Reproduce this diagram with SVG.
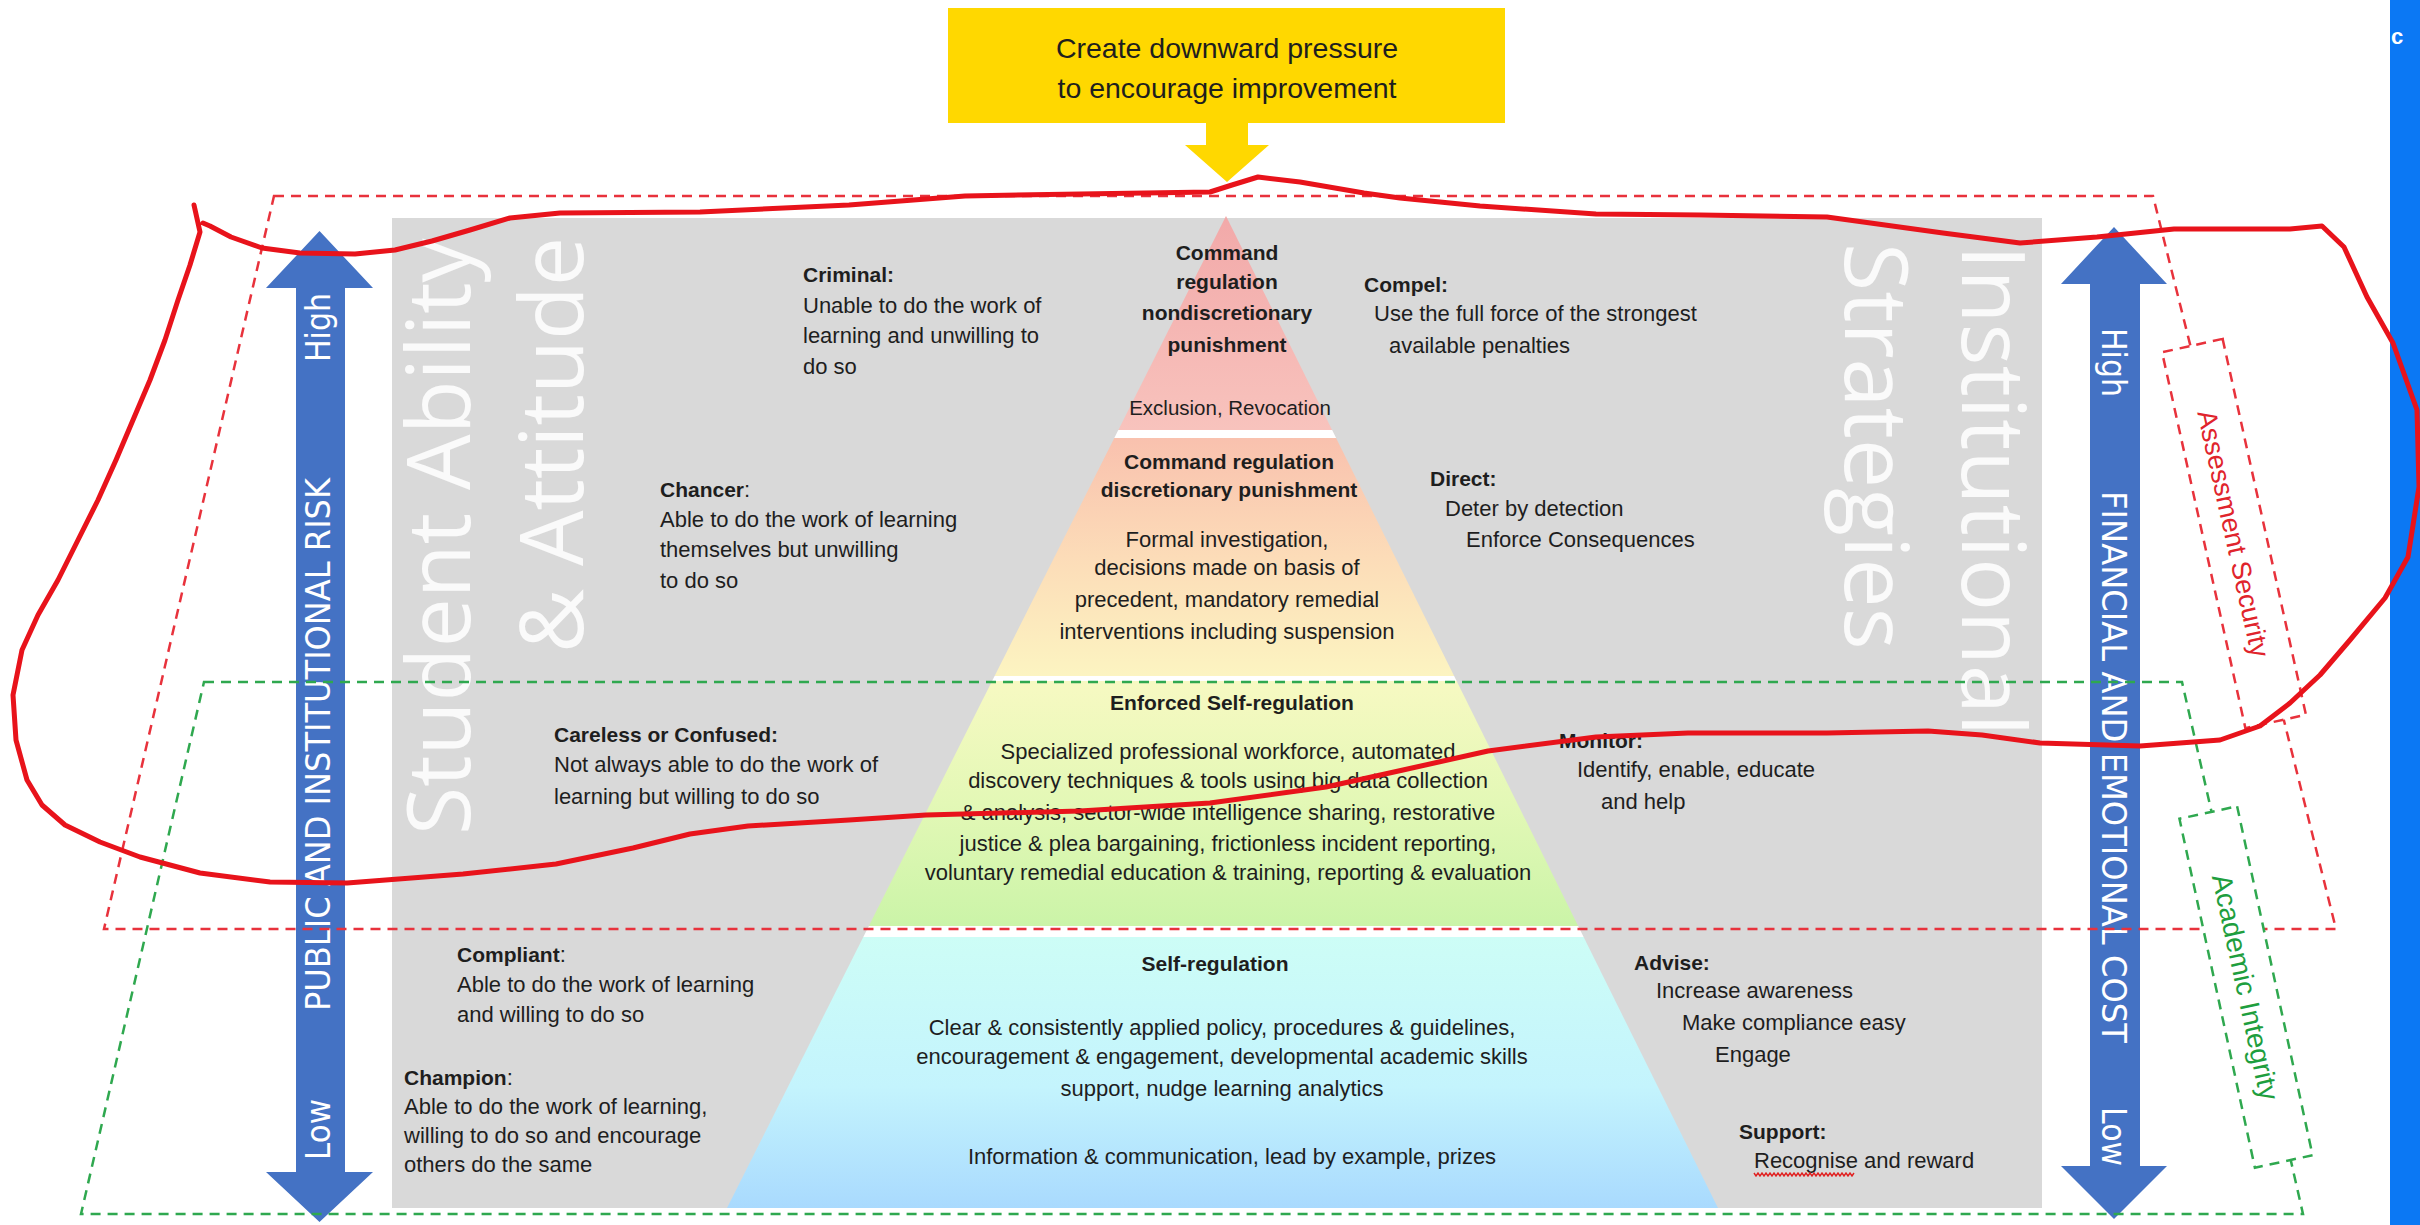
<svg xmlns="http://www.w3.org/2000/svg" width="2420" height="1225" viewBox="0 0 2420 1225">
<style>
.txt{font-family:"Liberation Sans",Arial,sans-serif;font-size:22px;fill:#1e1e1e}
.bd{font-weight:bold;font-size:21px}
.sm{font-size:20.5px}
.big{font-family:"Open Sans","DejaVu Sans",sans-serif;font-size:88px;fill:#ffffff;fill-opacity:0.85}
.arw{fill:#4472c4}
.arwt{font-family:"DejaVu Sans",Verdana,sans-serif;font-size:34px;fill:#ffffff}
.dr{fill:none;stroke:#e8323c;stroke-width:2.5;stroke-dasharray:10 7}
.dg{fill:none;stroke:#2fa84f;stroke-width:2.5;stroke-dasharray:10 7}
.box{fill:#ffffff}
.lblr{font-family:"Liberation Sans",Arial,sans-serif;font-size:27px;fill:#e0242c}
.lblg{font-family:"Liberation Sans",Arial,sans-serif;font-size:28px;fill:#1e9e3e}
.mid{text-anchor:middle}
</style>
<defs>
<clipPath id="pyr"><polygon points="1226,216 727,1208 1718,1208"/></clipPath>
<linearGradient id="gPink" gradientUnits="userSpaceOnUse" x1="0" y1="216" x2="0" y2="430"><stop offset="0" stop-color="#f2a9a9"/><stop offset="1" stop-color="#f8c3bd"/></linearGradient>
<linearGradient id="gMid" gradientUnits="userSpaceOnUse" x1="0" y1="438" x2="0" y2="676"><stop offset="0" stop-color="#f9c1ae"/><stop offset="0.5" stop-color="#fcdcb8"/><stop offset="1" stop-color="#fcf4c1"/></linearGradient>
<linearGradient id="gLow" gradientUnits="userSpaceOnUse" x1="0" y1="681" x2="0" y2="926"><stop offset="0" stop-color="#f7f9c2"/><stop offset="0.5" stop-color="#e3f8b6"/><stop offset="1" stop-color="#cbf4a8"/></linearGradient>
<linearGradient id="gBot" gradientUnits="userSpaceOnUse" x1="0" y1="937" x2="0" y2="1208"><stop offset="0" stop-color="#cdfdf6"/><stop offset="0.55" stop-color="#c4f4fd"/><stop offset="1" stop-color="#a9dafe"/></linearGradient>
</defs>
<rect x="0" y="0" width="2420" height="1225" fill="#ffffff"/>
<rect id="panel" x="392" y="218" width="1650" height="990" fill="#d9d9d9"/>

<g id="pyramid" clip-path="url(#pyr)">
<rect x="700" y="210" width="1050" height="220" fill="url(#gPink)"/>
<rect x="700" y="430" width="1050" height="8" fill="#ffffff"/>
<rect x="700" y="438" width="1050" height="238" fill="url(#gMid)"/>
<rect x="700" y="676" width="1050" height="5" fill="#ffffff"/>
<rect x="700" y="681" width="1050" height="245" fill="url(#gLow)"/>
<rect x="700" y="926" width="1050" height="11" fill="#ffffff"/>
<rect x="700" y="937" width="1050" height="275" fill="url(#gBot)"/>
</g>

<g id="titles-big">
<text class="big" transform="translate(470,835) rotate(-90)">Student Ability</text>
<text class="big" transform="translate(583,653) rotate(-90)">&amp; Attitude</text>
<text class="big" transform="translate(1962,245) rotate(90)">Institutional</text>
<text class="big" transform="translate(1845,243) rotate(90)">Strategies</text>
</g>

<g id="top-box">
<rect x="948" y="8" width="557" height="115" fill="#ffd800"/>
<text class="txt mid" x="1227" y="58" style="font-size:28.5px">Create downward pressure</text>
<text class="txt mid" x="1227" y="98" style="font-size:28.5px">to encourage improvement</text>
</g>

<g id="connectors">
<polygon points="1206,122 1248,122 1248,145 1269,145 1227,182 1185,145 1206,145" fill="#ffd800"/>
</g>

<g id="node-criminal">
<text class="txt bd" x="803" y="282">Criminal:</text>
<text class="txt" x="803" y="313">Unable to do the work of</text>
<text class="txt" x="803" y="343">learning and unwilling to</text>
<text class="txt" x="803" y="374">do so</text>
</g>
<g id="node-chancer">
<text class="txt" x="660" y="497"><tspan class="bd">Chancer</tspan>:</text>
<text class="txt" x="660" y="527">Able to do the work of learning</text>
<text class="txt" x="660" y="557">themselves but unwilling</text>
<text class="txt" x="660" y="588">to do so</text>
</g>
<g id="node-careless">
<text class="txt bd" x="554" y="742">Careless or Confused:</text>
<text class="txt" x="554" y="772">Not always able to do the work of</text>
<text class="txt" x="554" y="804">learning but willing to do so</text>
</g>
<g id="node-compliant">
<text class="txt" x="457" y="962"><tspan class="bd">Compliant</tspan>:</text>
<text class="txt" x="457" y="992">Able to do the work of learning</text>
<text class="txt" x="457" y="1022">and willing to do so</text>
</g>
<g id="node-champion">
<text class="txt" x="404" y="1085"><tspan class="bd">Champion</tspan>:</text>
<text class="txt" x="404" y="1114">Able to do the work of learning,</text>
<text class="txt" x="404" y="1143">willing to do so and encourage</text>
<text class="txt" x="404" y="1172">others do the same</text>
</g>

<g id="node-compel">
<text class="txt bd" x="1364" y="292">Compel:</text>
<text class="txt" x="1374" y="321">Use the full force of the strongest</text>
<text class="txt" x="1389" y="353">available penalties</text>
</g>
<g id="node-direct">
<text class="txt bd" x="1430" y="486">Direct:</text>
<text class="txt" x="1445" y="516">Deter by detection</text>
<text class="txt" x="1466" y="547">Enforce Consequences</text>
</g>
<g id="node-monitor">
<text class="txt bd" x="1559" y="748">Monitor:</text>
<text class="txt" x="1577" y="777">Identify, enable, educate</text>
<text class="txt" x="1601" y="809">and help</text>
</g>
<g id="node-advise">
<text class="txt bd" x="1634" y="970">Advise:</text>
<text class="txt" x="1656" y="998">Increase awareness</text>
<text class="txt" x="1682" y="1030">Make compliance easy</text>
<text class="txt" x="1715" y="1062">Engage</text>
</g>
<g id="node-support">
<text class="txt bd" x="1739" y="1139">Support:</text>
<text class="txt" x="1754" y="1168">Recognise and reward</text>
<path d="M1754,1173 l2,3 l2,-3 l2,3 l2,-3 l2,3 l2,-3 l2,3 l2,-3 l2,3 l2,-3 l2,3 l2,-3 l2,3 l2,-3 l2,3 l2,-3 l2,3 l2,-3 l2,3 l2,-3 l2,3 l2,-3 l2,3 l2,-3 l2,3 l2,-3 l2,3 l2,-3 l2,3 l2,-3 l2,3 l2,-3 l2,3 l2,-3 l2,3 l2,-3 l2,3 l2,-3 l2,3 l2,-3 l2,3 l2,-3 l2,3 l2,-3 l2,3 l2,-3 l2,3 l2,-3 l2,3 l2,-3" fill="none" stroke="#e02020" stroke-width="1.4"/>
</g>

<g id="node-tier1">
<text class="txt bd mid" x="1227" y="260">Command</text>
<text class="txt bd mid" x="1227" y="289">regulation</text>
<text class="txt bd mid" x="1227" y="320">nondiscretionary</text>
<text class="txt bd mid" x="1227" y="352">punishment</text>
<text class="txt sm mid" x="1230" y="415">Exclusion, Revocation</text>
</g>
<g id="node-tier2">
<text class="txt bd mid" x="1229" y="469">Command regulation</text>
<text class="txt bd mid" x="1229" y="497">discretionary punishment</text>
<text class="txt mid" x="1227" y="547">Formal investigation,</text>
<text class="txt mid" x="1227" y="575">decisions made on basis of</text>
<text class="txt mid" x="1227" y="607">precedent, mandatory remedial</text>
<text class="txt mid" x="1227" y="639">interventions including suspension</text>
</g>
<g id="node-tier3">
<text class="txt bd mid" x="1232" y="710">Enforced Self-regulation</text>
<text class="txt mid" x="1228" y="759">Specialized professional workforce, automated</text>
<text class="txt mid" x="1228" y="788">discovery techniques &amp; tools using big data collection</text>
<text class="txt mid" x="1228" y="820">&amp; analysis, sector-wide intelligence sharing, restorative</text>
<text class="txt mid" x="1228" y="851">justice &amp; plea bargaining, frictionless incident reporting,</text>
<text class="txt mid" x="1228" y="880">voluntary remedial education &amp; training, reporting &amp; evaluation</text>
</g>
<g id="node-tier4">
<text class="txt bd mid" x="1215" y="971">Self-regulation</text>
<text class="txt mid" x="1222" y="1035">Clear &amp; consistently applied policy, procedures &amp; guidelines,</text>
<text class="txt mid" x="1222" y="1064">encouragement &amp; engagement, developmental academic skills</text>
<text class="txt mid" x="1222" y="1096">support, nudge learning analytics</text>
<text class="txt mid" x="1232" y="1164">Information &amp; communication, lead by example, prizes</text>
</g>

<g id="axis-left">
<polygon class="arw" points="319.5,231 373,288 345,288 345,1172 373,1172 319.5,1222 266,1172 296,1172 296,288 266,288"/>
<text class="arwt mid" transform="translate(330,327.5) rotate(-90)" textLength="69" lengthAdjust="spacingAndGlyphs">High</text>
<text class="arwt mid" transform="translate(330,744.5) rotate(-90)" textLength="533" lengthAdjust="spacingAndGlyphs">PUBLIC AND INSTITUTIONAL RISK</text>
<text class="arwt mid" transform="translate(330,1129.5) rotate(-90)" textLength="61" lengthAdjust="spacingAndGlyphs">Low</text>
</g>
<g id="axis-right">
<polygon class="arw" points="2114,227 2167,284 2140,284 2140,1166 2167,1166 2114,1219 2061,1166 2090,1166 2090,284 2061,284"/>
<text class="arwt mid" transform="translate(2102,362.5) rotate(90)" textLength="69" lengthAdjust="spacingAndGlyphs">High</text>
<text class="arwt mid" transform="translate(2102,767) rotate(90)" textLength="552" lengthAdjust="spacingAndGlyphs">FINANCIAL AND EMOTIONAL COST</text>
<text class="arwt mid" transform="translate(2102,1136.5) rotate(90)" textLength="59" lengthAdjust="spacingAndGlyphs">Low</text>
</g>

<g id="zone-assessment">
<polygon class="dr" points="274,196 2153,196 2336,929 104,929"/>
</g>
<g id="zone-integrity">
<polygon class="dg" points="204,682 2182,682 2303,1214 81,1214"/>
</g>
<g id="label-assessment">
<rect class="box" x="-192.5" y="-31" width="385" height="62" transform="translate(2234,533.5) rotate(77.5)"/>
<rect class="dr" x="-192.5" y="-31" width="385" height="62" transform="translate(2234,533.5) rotate(77.5)"/>
<text class="lblr mid" transform="translate(2224.5,535.6) rotate(77.5)">Assessment Security</text>
</g>
<g id="label-integrity">
<rect class="box" x="-178.5" y="-29.5" width="357" height="59" transform="translate(2246,987) rotate(77.8)"/>
<rect class="dg" x="-178.5" y="-29.5" width="357" height="59" transform="translate(2246,987) rotate(77.8)"/>
<text class="lblg mid" transform="translate(2236.2,989.1) rotate(77.8)">Academic Integrity</text>
</g>

<g id="side-bar">
<rect x="2390" y="0" width="30" height="1225" fill="#0b78f4"/>
<text x="2391" y="44" style="font-family:'Liberation Sans',Arial,sans-serif;font-size:22px;font-weight:bold;fill:#ffffff">c</text>
</g>

<g id="annotation">
<path d="M194,205 L200,232 L190,265 L178,300 L165,340 L150,380 L133,420 L116,460 L98,500 L78,540 L58,580 L38,615 L22,650 L13,695 L16,740 L27,780 L42,805 L65,825 L100,842 L140,857 L200,873 L270,882 L347,883 L463,874 L556,864 L633,848 L690,834 L748,826 L849,820 L926,815 L1080,811 L1210,803 L1326,787 L1403,770 L1488,751 L1596,737 L1688,733 L1827,733 L1928,731 L1982,735 L2040,743 L2140,746 L2220,740 L2260,726 L2290,703 L2320,675 L2350,640 L2385,598 L2408,557 L2419,487 L2417,410 L2393,343 L2367,297 L2344,247 L2322,226 L2290,229 L2174,229 L2097,237 L2020,243 L1943,233 L1827,217 L1700,215 L1596,214 L1480,206 L1400,198 L1364,193 L1300,182 L1258,177 L1232,185 L1210,192 L1080,194 L965,196 L849,205 L700,212 L560,213 L510,218 L470,230 L432,241 L395,250 L355,254 L300,253 L262,248 L231,237 L210,226 L203,223" fill="none" stroke="#e8131b" stroke-width="5" stroke-linejoin="round" stroke-linecap="round"/>
</g>
</svg>
